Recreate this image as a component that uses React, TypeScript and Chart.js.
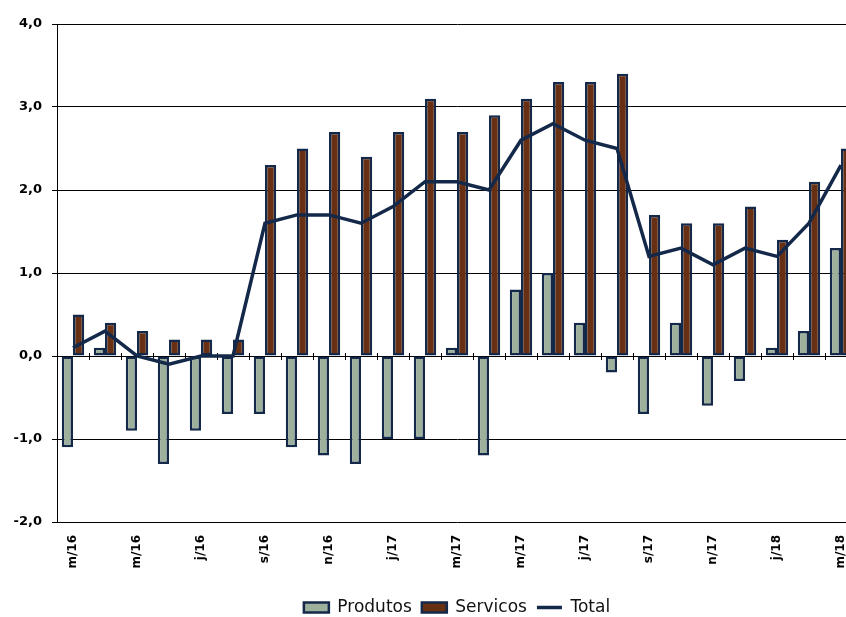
import { useEffect, useRef } from "react"
import { Chart, registerables } from "chart.js"

Chart.register(...registerables)

// monthly labels, Mar/16 .. Mar/18 (only every other one is printed)
const months = [
  "m/16", "a/16", "m/16", "j/16", "j/16", "a/16", "s/16", "o/16", "n/16", "d/16",
  "j/17", "f/17", "m/17", "a/17", "m/17", "j/17", "j/17", "a/17", "s/17", "o/17",
  "n/17", "d/17", "j/18", "f/18", "m/18",
]
const produtos = [
  -1.1, 0.1, -0.9, -1.3, -0.9, -0.7, -0.7, -1.1, -1.2, -1.3,
  -1.0, -1.0, 0.1, -1.2, 0.8, 1.0, 0.4, -0.2, -0.7, 0.4,
  -0.6, -0.3, 0.1, 0.3, 1.3,
]
const servicos = [
  0.5, 0.4, 0.3, 0.2, 0.2, 0.2, 2.3, 2.5, 2.7, 2.4,
  2.7, 3.1, 2.7, 2.9, 3.1, 3.3, 3.3, 3.4, 1.7, 1.6,
  1.6, 1.8, 1.4, 2.1, 2.5,
]
const total = [
  0.1, 0.3, 0.0, -0.1, 0.0, 0.0, 1.6, 1.7, 1.7, 1.6,
  1.8, 2.1, 2.1, 2.0, 2.6, 2.8, 2.6, 2.5, 1.2, 1.3,
  1.1, 1.3, 1.2, 1.6, 2.3,
]
const yMin = -2
const yMax = 4

const NAVY = "#14294a"

// small category tick marks sitting on the zero line
const zeroTicks = {
  id: "zeroTicks",
  beforeDatasetsDraw(chart: any) {
    const { ctx, scales } = chart
    const x = scales.x
    const y0 = Math.round(scales.y.getPixelForValue(0))
    const half = (x.getPixelForValue(1) - x.getPixelForValue(0)) / 2
    ctx.save()
    ctx.strokeStyle = "#000"
    ctx.lineWidth = 1
    ctx.beginPath()
    for (let i = 1; i < months.length; i++) {
      const px = Math.round(x.getPixelForValue(i) - half) + 0.5
      ctx.moveTo(px, y0 - 3)
      ctx.lineTo(px, y0 + 4)
    }
    ctx.stroke()
    ctx.restore()
  },
}

export default function App() {
  const canvasRef = useRef<HTMLCanvasElement>(null)

  useEffect(() => {
    if (!canvasRef.current) return
    Chart.defaults.font.family = "'DejaVu Sans', Verdana, sans-serif"

    const chart = new Chart(canvasRef.current, {
      type: "bar",
      data: {
        labels: months,
        datasets: [
          {
            label: "Produtos",
            data: produtos,
            backgroundColor: "#9cb09b",
            borderColor: NAVY,
            borderWidth: 2.5,
            borderSkipped: false,
            pointStyle: "rect",
            categoryPercentage: 0.7,
            barPercentage: 1,
            order: 1,
          },
          {
            label: "Servicos",
            data: servicos,
            backgroundColor: "#683013",
            borderColor: NAVY,
            borderWidth: 2.5,
            borderSkipped: false,
            pointStyle: "rect",
            categoryPercentage: 0.7,
            barPercentage: 1,
            order: 1,
          },
          {
            type: "line",
            label: "Total",
            data: total,
            borderColor: NAVY,
            backgroundColor: NAVY,
            borderWidth: 3.5,
            pointRadius: 0,
            pointStyle: "line",
            tension: 0,
            order: 0,
          } as any,
        ],
      },
      options: {
        animation: false,
        responsive: true,
        maintainAspectRatio: false,
        layout: { padding: { top: 24, left: 0, right: 53, bottom: 0 } },
        scales: {
          x: {
            grid: { display: false, drawTicks: false },
            border: { display: false },
            afterFit: (s: any) => {
              s.height = 67
            },
            ticks: {
              autoSkip: false,
              maxRotation: 90,
              minRotation: 90,
              padding: 13,
              color: "#000",
              font: { size: 12, weight: "bold" },
              callback: (_v: any, i: number) => (i % 2 === 0 ? months[i] : ""),
            },
          },
          y: {
            min: yMin,
            max: yMax,
            afterFit: (s: any) => {
              s.width = 57
            },
            grid: { color: "#000", lineWidth: 1, tickLength: 5 },
            border: { display: true, color: "#000", width: 1 },
            ticks: {
              stepSize: 1,
              padding: 10,
              color: "#000",
              font: { size: 13, weight: "bold" },
              callback: (v: any) => Number(v).toFixed(1).replace(".", ","),
            },
          },
        },
        plugins: {
          legend: {
            position: "bottom",
            fullSize: false,
            labels: {
              usePointStyle: true,
              pointStyleWidth: 25,
              boxWidth: 25,
              boxHeight: 10,
              padding: 10,
              color: "#111",
              font: { size: 17 },
              sort: (a: any, b: any) => a.datasetIndex - b.datasetIndex,
            },
          },
          tooltip: { enabled: false },
        },
      },
      plugins: [zeroTicks],
    })

    return () => {
      chart.destroy()
    }
  }, [])

  return (
    <div style={{ position: "absolute", left: 0, top: 0, width: 846, height: 617, overflow: "hidden", background: "#fff" }}>
      <div style={{ position: "relative", width: 910, height: 626 }}>
        <canvas ref={canvasRef}></canvas>
      </div>
    </div>
  )
}
